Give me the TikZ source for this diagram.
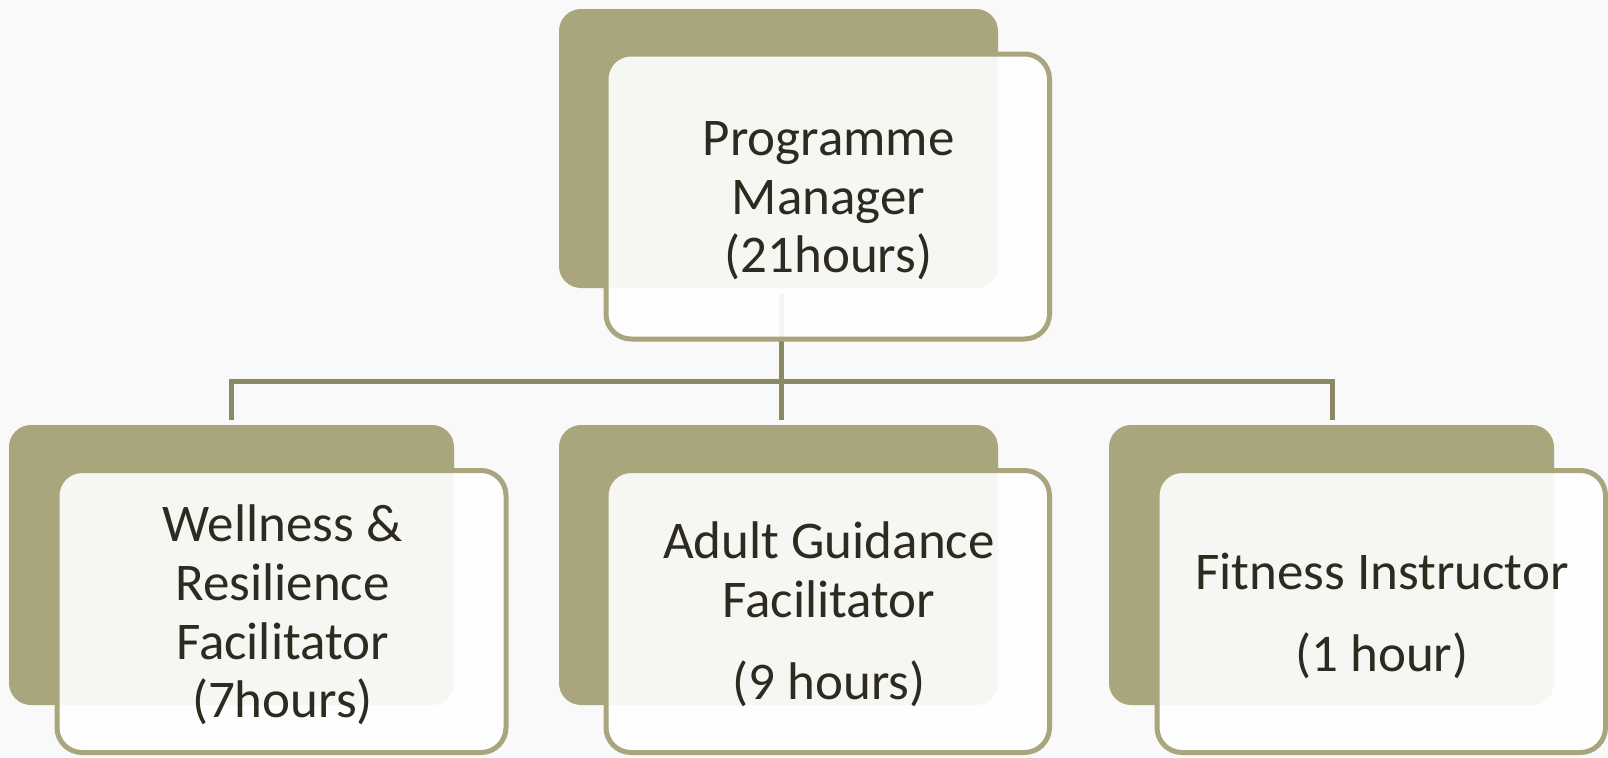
\documentclass[tikz,border=0pt]{standalone}
\usepackage{fontspec}
\setmainfont{Carlito}
\definecolor{boxolive}{RGB}{169,165,124}
\definecolor{linkolive}{RGB}{139,136,100}
\definecolor{inkdark}{RGB}{45,42,32}
\definecolor{paper}{RGB}{249,249,249}
\begin{document}
\begin{tikzpicture}[x=0.5pt,y=-0.5pt,
  backbox/.style={fill=boxolive, rounded corners=11pt, inner sep=0pt, outer sep=0pt},
  frontbox/.style={draw=boxolive, line width=2.5pt, fill=white, fill opacity=0.9,
    rounded corners=12.5pt, inner sep=0pt, outer sep=0pt},
  roletext/.style={font=\fontsize{26.5pt}{29.3pt}\selectfont, text=inkdark, align=center, inner sep=0pt},
  link/.style={draw=linkolive, line width=2.5pt, line join=miter}]

% canvas
\fill[paper] (0,0) rectangle (1608,757);
\useasboundingbox (0,0) rectangle (1608,757);

% back tabs (olive)
\node[backbox, minimum width=219.5pt, minimum height=139.5pt] (pmb) at (778.5,148.5) {};
\node[backbox, minimum width=222.5pt, minimum height=140pt] (wrb) at (231.5,565) {};
\node[backbox, minimum width=219.5pt, minimum height=140pt] (agb) at (778.5,565) {};
\node[backbox, minimum width=222.5pt, minimum height=140pt] (fib) at (1331.5,565) {};

% connectors
\coordinate (bus) at (781.5,381);
\draw[link] ([xshift=1.5pt,yshift=-3pt]pmb.south) -- ([xshift=1.5pt,yshift=2.5pt]agb.north);
\draw[link] ([yshift=2.5pt]wrb.north) |- (bus) -| ([xshift=0.5pt,yshift=2.5pt]fib.north);

% front cards
\node[frontbox, minimum width=221.75pt, minimum height=142.5pt] (pmf) at (827.75,196.5) {};
\node[frontbox, minimum width=224.5pt, minimum height=141pt] (wrf) at (281.5,611.5) {};
\node[frontbox, minimum width=221.75pt, minimum height=141pt] (agf) at (827.75,611.5) {};
\node[frontbox, minimum width=224.25pt, minimum height=141pt] (fif) at (1381.25,611.5) {};

% role texts
\node[roletext] (pm) at (828.5,201) {Programme\\Manager\\(21hours)};
\node[roletext] (wr) at (282.5,615) {Wellness \&\\Resilience\\Facilitator\\(7hours)};
\node[roletext] (ag) at (829,614) {Adult Guidance\\Facilitator\\[11.7pt](9 hours)};
\node[roletext] (fi) at (1382,615.8) {Fitness Instructor\\[11.7pt](1 hour)};
\end{tikzpicture}
\end{document}
